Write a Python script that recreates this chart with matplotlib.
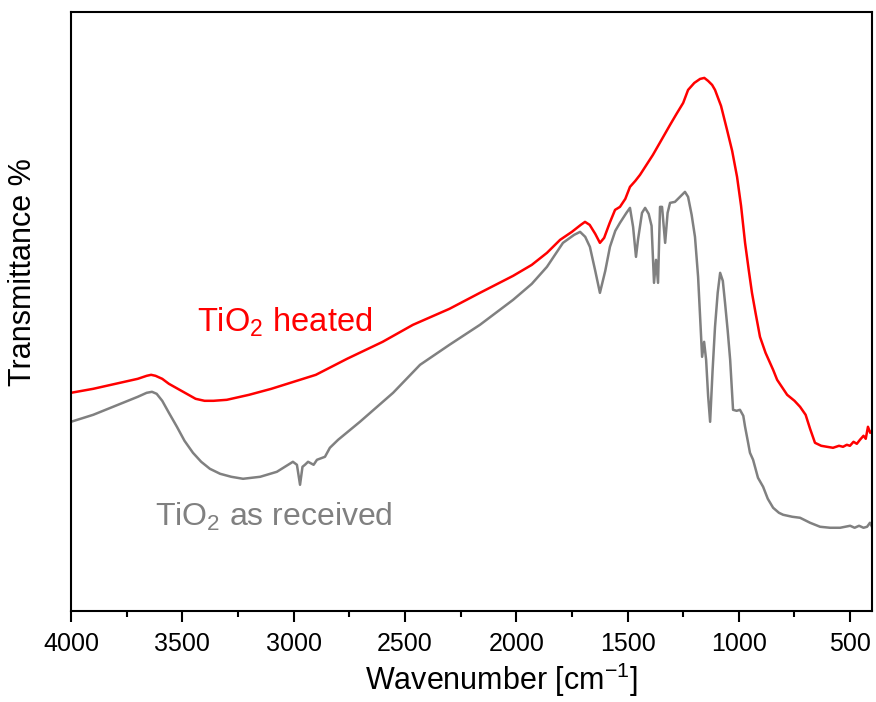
import matplotlib
matplotlib.use("Agg")
import matplotlib.pyplot as plt
from matplotlib.ticker import MultipleLocator

plt.rcParams['font.family'] = ['Liberation Sans', 'DejaVu Sans']
plt.rcParams['mathtext.fontset'] = 'custom'
plt.rcParams['mathtext.rm'] = 'Liberation Sans'

# TiO2 heated (wavenumber, transmittance in arbitrary units)
heated_wn = [4000, 3900, 3800, 3700, 3660, 3640, 3620, 3590, 3560, 3520, 3480, 3440,
             3400, 3360, 3300, 3200, 3100, 3000, 2900, 2760, 2600, 2464, 2300, 2163,
             2014, 1930, 1862, 1803, 1750, 1710, 1691, 1670, 1645, 1624, 1605, 1580,
             1556, 1534, 1510, 1489, 1465, 1444, 1415, 1386, 1350, 1309, 1280, 1250,
             1228, 1200, 1174, 1155, 1138, 1120, 1107, 1080, 1053, 1030, 1008, 990,
             972, 955, 941, 925, 905, 880, 846, 828, 783, 750, 725, 700, 680, 658,
             630, 604, 577, 550, 532, 515, 501, 485, 470, 456, 440, 430, 420, 410, 402]
heated_t = [218, 222, 227, 232, 235, 236, 235, 232, 227, 222, 217, 212,
            210, 210, 211, 216, 222, 229, 236, 252, 269, 286, 302, 318,
            335, 346, 358, 371, 379, 386, 389, 386, 377, 368, 373, 388,
            401, 404, 412, 424, 430, 436, 446, 456, 470, 486, 497, 508,
            521, 528, 532, 533, 530, 526, 521, 505, 481, 460, 434, 405,
            368, 340, 318, 298, 274, 258, 241, 231, 216, 210, 204, 196, 182, 168,
            165, 164, 163, 165, 164, 166, 165, 169, 167, 171, 175, 172, 184, 178, 180]

# TiO2 as received
recv_wn = [4000, 3900, 3800, 3700, 3660, 3636, 3615, 3590, 3560, 3524, 3490, 3452,
           3415, 3376, 3330, 3280, 3227, 3150, 3075, 3003, 2985, 2971, 2960, 2949,
           2935, 2910, 2895, 2859, 2837, 2800, 2702, 2553, 2432, 2300, 2163, 2014,
           1930, 1862, 1790, 1740, 1713, 1690, 1669, 1645, 1624, 1600, 1579, 1555,
           1534, 1505, 1489, 1475, 1462, 1453, 1435, 1421, 1405, 1392, 1381, 1372,
           1363, 1354, 1345, 1331, 1320, 1309, 1287, 1242, 1228, 1212, 1197, 1183,
           1165, 1156, 1147, 1138, 1129, 1118, 1107, 1095, 1084, 1072, 1062, 1050,
           1039, 1026, 1010, 995, 980, 972, 960, 950, 936, 914, 891, 870, 846, 820,
           801, 760, 725, 680, 635, 590, 545, 500, 480, 460, 440, 424, 411, 402]
recv_t = [189, 196, 205, 214, 218, 219, 217, 210, 198, 184, 170, 158,
          149, 142, 137, 134, 132, 134, 139, 149, 146, 126, 144, 146,
          149, 146, 151, 154, 163, 171, 189, 218, 246, 266, 286, 311,
          327, 344, 368, 376, 379, 374, 364, 340, 318, 340, 364, 380,
          388, 398, 403, 384, 354, 371, 398, 403, 397, 385, 328, 351,
          328, 404, 404, 368, 398, 408, 409, 419, 414, 396, 374, 334,
          254, 269, 251, 215, 189, 240, 284, 318, 338, 330, 308, 280,
          251, 201, 200, 201, 195, 184, 170, 158, 151, 133, 124, 112, 103, 98,
          96, 94, 93, 88, 84, 83, 83, 85, 83, 85, 83, 84, 88, 84]

fig = plt.figure(figsize=(8.76, 7.02), dpi=100)
ax = fig.add_axes([0.081, 0.130, 0.9144, 0.853])

ax.plot(recv_wn, recv_t, color='#808080', lw=1.8)
ax.plot(heated_wn, heated_t, color='#ff0000', lw=1.8)

ax.set_xlim(4000, 402)
ax.set_ylim(0, 599)
ax.set_yticks([])
ax.xaxis.set_major_locator(MultipleLocator(500))
ax.xaxis.set_minor_locator(MultipleLocator(250))
ax.tick_params(axis='x', which='major', direction='out', length=8, width=1.5,
               labelsize=18, pad=7)
ax.tick_params(axis='x', which='minor', direction='out', length=4, width=1.5)
for s in ax.spines.values():
    s.set_linewidth(1.5)

ax.set_xlabel('Wavenumber [cm$^{\\mathregular{-1}}$]', fontsize=22)
ax.xaxis.set_label_coords(0.537, -0.083)
ax.set_ylabel('Transmittance %', fontsize=22)
ax.yaxis.set_label_coords(-0.041, 0.565)

ax.text(3434, 289, 'TiO$_2$ heated', color='#ff0000', fontsize=23.5,
        va='center', ha='left')
ax.text(3623, 94, 'TiO$_2$ as received', color='#808080', fontsize=23,
        va='center', ha='left')

fig.savefig('out.png', dpi=100)
